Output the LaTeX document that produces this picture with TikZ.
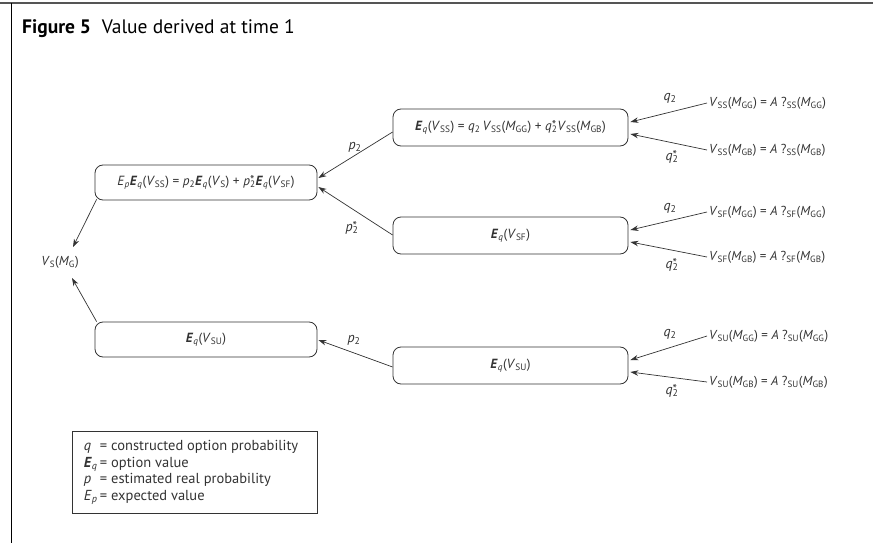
\documentclass[tikz,border=0pt]{standalone}
\usepackage{fontspec}
\setmainfont{PT Sans}
\usetikzlibrary{arrows.meta,calc}

% notation helpers
\newcommand\bE{\textbf{\textit{E}}}
\newcommand\Eqq{\bE\textsubscript{\textit{q}}}
\newcommand\Epp{\textit{E}\textsubscript{\textit{p}}}
\newcommand\vsub[1]{\textit{V}\textsubscript{#1}}
\newcommand\msub[1]{\textit{M}\textsubscript{#1}}
% star set over a subscript
\newcommand\stsub[1]{\makebox[0pt][l]{\fontsize{12.5}{12}\selectfont\raisebox{1.2pt}{*}}\textsubscript{#1}}
\newcommand\qtwo{\textit{q}\textsubscript{2}}
\newcommand\qstar{\textit{q}\stsub{2}}
\newcommand\ptwo{\textit{p}\textsubscript{2}}
\newcommand\pstar{\textit{p}\stsub{2}}

\definecolor{ink}{HTML}{333333}
\definecolor{rule}{HTML}{555555}

\tikzset{
  valbox/.style={draw=ink, line width=0.8pt, rounded corners=8pt, inner sep=0pt,
    text=ink, font=\fontsize{13.3}{15}\selectfont, anchor=center},
  leaf/.style={text=ink, font=\fontsize{13}{15}\selectfont, anchor=west, inner sep=2pt},
  prob/.style={text=ink, font=\fontsize{14}{16}\selectfont, inner sep=0pt},
  arr/.style={draw=ink, line width=0.7pt, -{Stealth[length=8pt,width=5.5pt]}},
}

\begin{document}
\begin{tikzpicture}[x=1pt, y=-1pt]
\useasboundingbox (0,0) rectangle (873,543);

% frame rules
\draw[rule, line width=1.8pt] (0,3) -- (873,3);
\draw[black, line width=1pt] (11,3) -- (11,543);

% heading
\node[anchor=base west, inner sep=0pt, font=\fontsize{19.5}{22}\selectfont] (title) at (22,34)
  {\textbf{Figure 5}\hspace{0.55em}Value derived at time 1};

% boxes
\node[valbox, minimum width=222pt, minimum height=35pt] (ep) at (206,182.5)
  {\Epp\Eqq(\vsub{SS}) = \ptwo\Eqq(\vsub{S}) + \pstar\Eqq(\vsub{SF})};
\node[valbox, minimum width=235pt, minimum height=37pt] (ss) at (510.5,127.5)
  {\Eqq(\vsub{SS}) = \qtwo\,\vsub{SS}(\msub{GG}) + \qstar\vsub{SS}(\msub{GB})};
\node[valbox, minimum width=235pt, minimum height=37pt] (sf) at (510.5,235.5)
  {\Eqq(\vsub{SF})};
\node[valbox, minimum width=235pt, minimum height=37pt] (sur) at (510.5,365.5)
  {\Eqq(\vsub{SU})};
\node[valbox, minimum width=222pt, minimum height=35pt] (sul) at (206,339.5)
  {\Eqq(\vsub{SU})};

% root value
\node[text=ink, font=\fontsize{13}{15}\selectfont, inner sep=0pt] (vs) at (60,262)
  {\vsub{S}(\msub{G})};

% terminal values
\node[leaf] (ssgg) at (707,103) {\vsub{SS}(\msub{GG}) = \textit{A} ?\textsubscript{SS}(\msub{GG})};
\node[leaf] (ssgb) at (707,150) {\vsub{SS}(\msub{GB}) = \textit{A} ?\textsubscript{SS}(\msub{GB})};
\node[leaf] (sfgg) at (707,212) {\vsub{SF}(\msub{GG}) = \textit{A} ?\textsubscript{SF}(\msub{GG})};
\node[leaf] (sfgb) at (707,257) {\vsub{SF}(\msub{GB}) = \textit{A} ?\textsubscript{SF}(\msub{GB})};
\node[leaf] (sugg) at (707,336) {\vsub{SU}(\msub{GG}) = \textit{A} ?\textsubscript{SU}(\msub{GG})};
\node[leaf] (sugb) at (707,382) {\vsub{SU}(\msub{GB}) = \textit{A} ?\textsubscript{SU}(\msub{GB})};

% leaves into option boxes
\draw[arr] (ssgg.west) -- ($(ss.east)+(2,-5.5)$);
\draw[arr] (ssgb.west) -- ($(ss.east)+(2,6.5)$);
\draw[arr] (sfgg.west) -- ($(sf.east)+(2,-5.5)$);
\draw[arr] (sfgb.west) -- ($(sf.east)+(2,6.5)$);
\draw[arr] (sugg.west) -- ($(sur.east)+(2,-5.5)$);
\draw[arr] (sugb.west) -- ($(sur.east)+(2,6.5)$);

% option boxes into expectation boxes
\draw[arr] ($(ss.west)+(0,4.5)$) -- ($(ep.east)+(1,-4.5)$);
\draw[arr] ($(sf.west)+(0,-0.5)$) -- ($(ep.east)+(1,4.5)$);
\draw[arr] ($(sur.west)+(0,1.5)$) -- ($(sul.east)+(1,0.5)$);

% into the root value
\draw[arr] ($(ep.south west)+(2,-1)$) -- ($(vs.center)+(13,-15)$);
\draw[arr] ($(sul.north west)+(2,0)$) -- ($(vs.center)+(12,16)$);

% probability labels
\node[prob] (lq1) at (670,98) {\qtwo};
\node[prob] (lq1s) at (672,157) {\qstar};
\node[prob] (lq2) at (670,208) {\qtwo};
\node[prob] (lq2s) at (672,265) {\qstar};
\node[prob] (lq3) at (670,334) {\qtwo};
\node[prob] (lq3s) at (672,391) {\qstar};
\node[prob] (lp1) at (355,147) {\ptwo};
\node[prob] (lp2) at (352,228) {\pstar};
\node[prob] (lp3) at (354,340) {\ptwo};

% key
\node[draw=ink, line width=0.8pt, minimum width=245pt, minimum height=82pt,
      inner sep=0pt] (key) at (194.5,472) {};
\node[anchor=west, text=ink, font=\fontsize{14.5}{17.8}\selectfont, inner sep=0pt] (keytext)
  at ($(key.west)+(12,0)$)
  {\begin{tabular}{@{}l@{\,}l@{}}
    \textit{q} & = constructed option probability\\[-1.2pt]
    \Eqq & = option value\\[-1.2pt]
    \textit{p} & = estimated real probability\\[-1.2pt]
    \Epp & = expected value
  \end{tabular}};
\end{tikzpicture}
\end{document}
